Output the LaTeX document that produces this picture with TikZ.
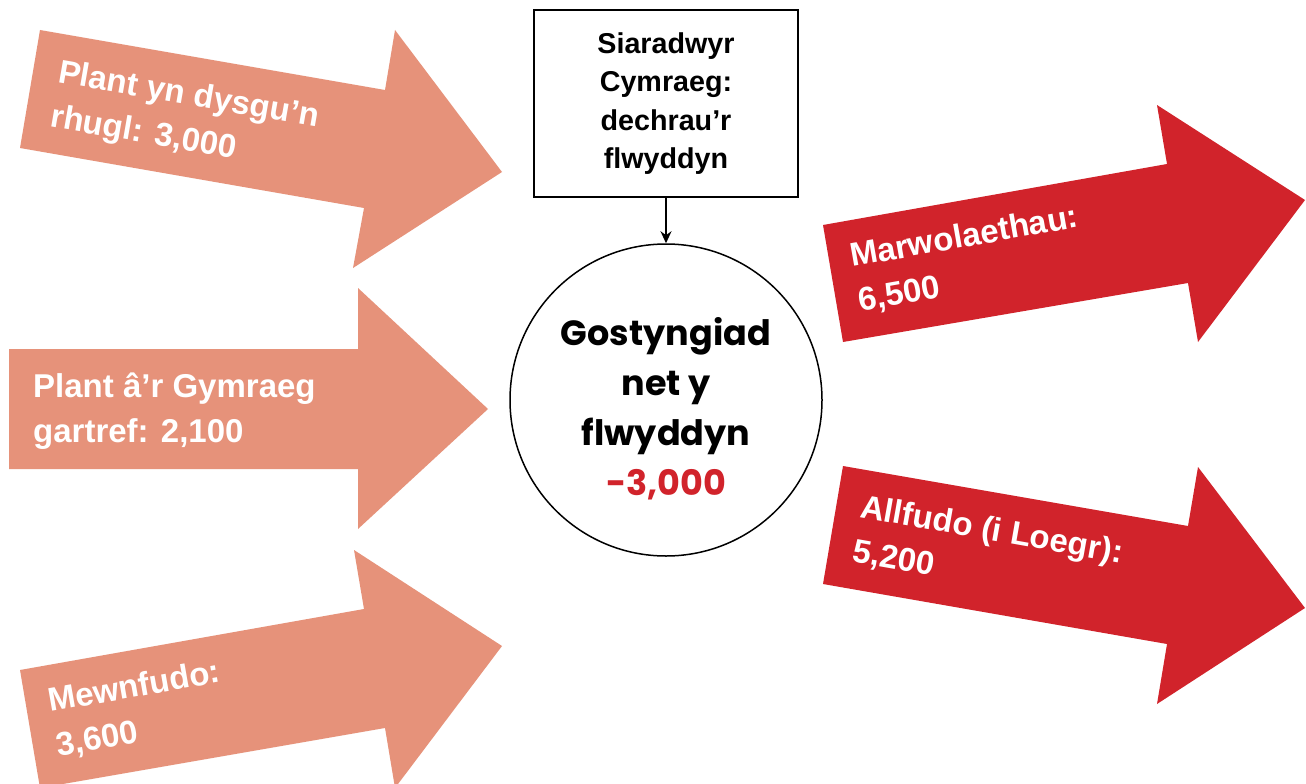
\documentclass[tikz,border=0pt]{standalone}
\usepackage{fontspec}
\setmainfont{Liberation Sans}
\newfontfamily\circfont{Poppins}
\usetikzlibrary{arrows.meta}
\definecolor{salmon}{HTML}{E6927A}
\definecolor{wred}{HTML}{D1232B}
\tikzset{
  inarrow/.style={fill=salmon},
  outarrow/.style={fill=wred},
  lbl/.style={anchor=base west, inner sep=0pt, text=white, font=\bfseries\fontsize{33}{45}\selectfont},
}
\begin{document}
\begin{tikzpicture}[x=1pt,y=-1pt]
\clip (0,0) rectangle (1306,784);
\fill[white] (0,0) rectangle (1306,784);
% incoming arrows
\fill[inarrow] (40,30) -- (385,90) -- (395,30) -- (502,172) -- (353,268) -- (364,208) -- (20,148) -- cycle;
\fill[inarrow] (9,349) -- (358,349) -- (358,288) -- (488,409) -- (358,529) -- (358,469) -- (9,469) -- cycle;
\fill[inarrow] (20,670) -- (364,609) -- (354,550) -- (502,646) -- (395,788) -- (385,728) -- (40,788) -- cycle;
% outgoing arrows
\fill[outarrow] (823,225) -- (1167,164) -- (1157,105) -- (1305,200) -- (1198,342) -- (1188,283) -- (843,342) -- cycle;
\fill[outarrow] (843,466) -- (1188,526) -- (1198,467) -- (1305,608) -- (1157,704) -- (1167,644) -- (823,584) -- cycle;
% labels
\node[lbl, rotate=-9.9] (l1) at (57,82) {\begin{tabular}[t]{@{}l@{}}Plant yn dysgu’n\\rhugl: 3,000\end{tabular}};
\node[lbl] (l2) at (33,397) {\begin{tabular}[t]{@{}l@{}}Plant â’r Gymraeg\\gartref: 2,100\end{tabular}};
\node[lbl, rotate=10] (l3) at (50,712) {\begin{tabular}[t]{@{}l@{}}Mewnfudo:\\3,600\end{tabular}};
\node[lbl, rotate=10] (l4) at (852,267) {\begin{tabular}[t]{@{}l@{}}Marwolaethau:\\6,500\end{tabular}};
\node[lbl, rotate=-10] (l5) at (859,517) {\begin{tabular}[t]{@{}l@{}}Allfudo (i Loegr):\\5,200\end{tabular}};
% box and circle
\node[draw, line width=1.5pt, minimum width=264pt, minimum height=187pt, inner sep=0pt, align=center,
      font=\bfseries\fontsize{28.7}{38.5}\selectfont] (box) at (666,103.5)
  {Siaradwyr\\Cymraeg:\\dechrau’r\\flwyddyn};
\node[draw, circle, line width=1.5pt, minimum size=312pt, inner sep=0pt] (circ) at (666,400) {};
\node[anchor=base, inner sep=0pt, font=\circfont\bfseries\fontsize{35}{50}\selectfont] (ctext) at (666,345)
  {\begin{tabular}[t]{@{}c@{}}Gostyngiad\\net y\\flwyddyn\\\textcolor{wred}{-3,000}\end{tabular}};
\draw[line width=1.5pt, -{Stealth[length=12pt,width=11pt]}] (box.south) -- (circ.north);
\end{tikzpicture}
\end{document}
